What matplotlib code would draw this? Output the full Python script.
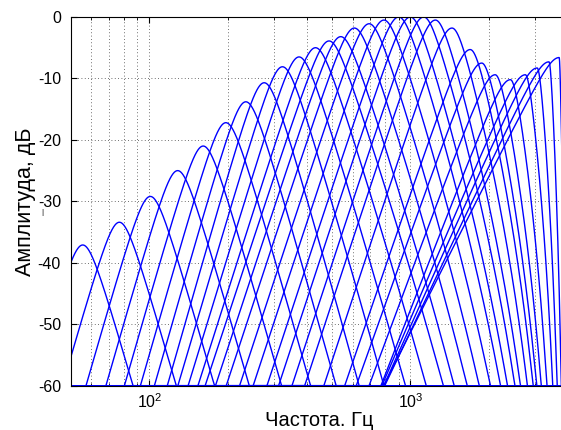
import numpy as np
import matplotlib
matplotlib.use("Agg")
import matplotlib.pyplot as plt

# centre frequencies (Hz) and peak levels (dB)
centre_hz = [55.6, 76.8, 100.9, 128.4, 160.8, 196.4, 234.2, 275.3, 323.4, 374.4,
             432.9, 487.8, 540.9, 609.8, 694.5, 791.2, 901.5, 998.9, 1124, 1246,
             1442, 1693, 1874, 2110, 2413, 2753, 3056, 3391, 3709]
peak_db = [-37.1, -33.4, -29.2, -25.0, -21.0, -17.2, -13.8, -10.7, -8.1, -6.5,
           -5.0, -3.9, -3.2, -1.8, -1.1, -0.5, 0.0, 0.0, 0.0, -0.5,
           -1.8, -5.3, -7.5, -9.4, -10.2, -9.4, -8.3, -7.3, -6.6]
# skirt slopes, dB per decade (low side, high side)
slope_lo = [150, 150, 150, 150, 150, 150, 150, 150, 145, 140,
            135, 130, 130, 130, 130, 130, 130, 130, 130, 130,
            130, 125, 120, 115, 110, 100, 95, 90, 85]
slope_hi = [150, 150, 150, 150, 150, 150, 150, 150, 145, 140,
            135, 130, 130, 130, 130, 130, 130, 130, 130, 130,
            130, 130, 130, 130, 130, 130, 130, 130, 130]

fs = 8000
tip = 0.045
y_ticks = [0, -10, -20, -30, -40, -50, -60]

plt.rcParams['font.family'] = ['Liberation Sans', 'DejaVu Sans']
plt.rcParams['axes.unicode_minus'] = False

fig = plt.figure(figsize=(5.61, 4.30), dpi=100)
ax = fig.add_axes([0.126, 0.103, 0.886, 0.8575])

f = np.logspace(np.log10(50), np.log10(3998), 4000)
w = np.tan(np.pi * f / fs)
for fc, g, s_lo, s_hi in zip(centre_hz, peak_db, slope_lo, slope_hi):
    w0 = np.tan(np.pi * fc / fs)
    d = np.where(f < fc, np.log10(f / fc), np.log10(w / w0))
    s = np.where(f < fc, s_lo, s_hi)
    resp = g - s * (np.sqrt(d ** 2 + tip ** 2) - tip)
    ax.semilogx(f, np.maximum(resp, -60), color='b', linewidth=1.0)

ax.set_xlim(50, 4000)
ax.set_ylim(-60, 0)
ax.set_yticks(y_ticks)
ax.set_yticklabels([str(t) for t in y_ticks])
ax.set_xticks([100, 1000])
ax.set_xticklabels([r'$\mathregular{10^2}$', r'$\mathregular{10^3}$'])
ax.set_xticks([60, 70, 80, 90, 200, 300, 400, 500, 600, 700, 800, 900, 2000, 3000], minor=True)
ax.xaxis.set_minor_formatter(matplotlib.ticker.NullFormatter())

ax.tick_params(which='both', direction='in', top=True, right=True, labelsize=11.5)
ax.tick_params(axis='y', pad=7)
ax.tick_params(axis='x', pad=5)
ax.tick_params(which='major', length=4)
ax.tick_params(which='minor', length=2)
ax.grid(True, which='both', axis='x', color='0.25', linestyle=(0, (1, 3)), linewidth=0.6)
ax.grid(True, which='major', axis='y', color='0.25', linestyle=(0, (1, 3)), linewidth=0.6)
for sp in ax.spines.values():
    sp.set_linewidth(0.8)

ax.set_xlabel('Частота. Гц', fontsize=14.5, labelpad=0)
ax.set_ylabel('Амплитуда, дБ', fontsize=15.5, labelpad=1)
fig.text(42 / 561, 1 - 213 / 430, '|', fontsize=6, ha='center', va='center')

fig.savefig('out.png', dpi=100)
